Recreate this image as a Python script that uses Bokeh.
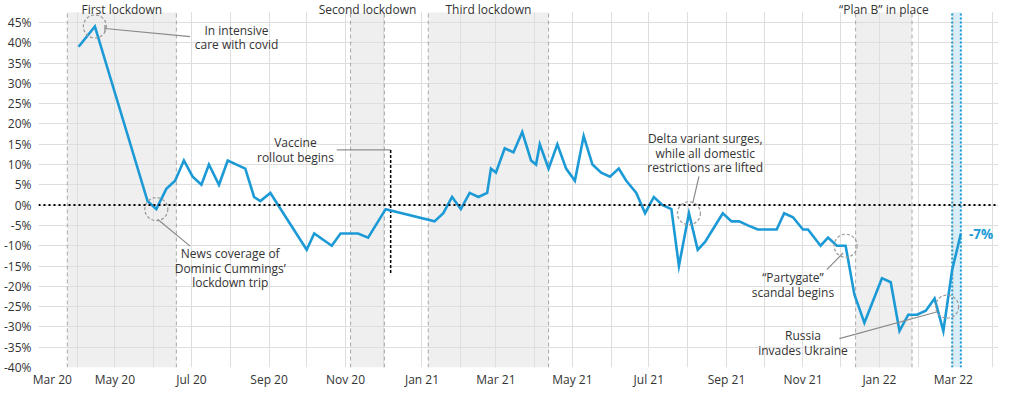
import pandas as pd
from math import pi
from bokeh.plotting import figure
from bokeh.models import Range1d, FixedTicker, PrintfTickFormatter, BoxAnnotation, Span, Label
from bokeh.embed import file_html
from bokeh.resources import INLINE

# ---------------- data ----------------
dates = [
    "2020-04-02", "2020-04-15", "2020-05-27", "2020-06-03", "2020-06-11", "2020-06-18",
    "2020-06-25", "2020-07-02", "2020-07-09", "2020-07-15", "2020-07-23", "2020-07-30",
    "2020-08-13", "2020-08-20", "2020-08-25", "2020-09-02", "2020-10-01", "2020-10-07",
    "2020-10-21", "2020-10-28", "2020-11-11", "2020-11-19", "2020-12-03", "2021-01-11",
    "2021-01-18", "2021-01-25", "2021-02-01", "2021-02-08", "2021-02-15", "2021-02-22",
    "2021-02-25", "2021-03-01", "2021-03-08", "2021-03-15", "2021-03-22", "2021-03-29",
    "2021-04-02", "2021-04-05", "2021-04-12", "2021-04-19", "2021-04-26", "2021-05-03",
    "2021-05-10", "2021-05-17", "2021-05-24", "2021-05-31", "2021-06-07", "2021-06-13",
    "2021-06-21", "2021-06-28", "2021-07-05", "2021-07-12", "2021-07-19", "2021-07-25",
    "2021-08-02", "2021-08-09", "2021-08-15", "2021-08-21", "2021-08-29", "2021-09-05",
    "2021-09-11", "2021-09-18", "2021-09-26", "2021-10-11", "2021-10-17", "2021-10-24",
    "2021-11-01", "2021-11-05", "2021-11-15", "2021-11-21", "2021-11-28", "2021-12-05",
    "2021-12-12", "2021-12-20", "2022-01-03", "2022-01-10", "2022-01-17", "2022-01-24",
    "2022-01-31", "2022-02-07", "2022-02-14", "2022-02-21", "2022-02-28", "2022-03-07",
]
net_support = [
    39, 44, 1, -1, 4, 6,
    11, 7, 5, 10, 5, 11,
    9, 2, 1, 3, -11, -7,
    -10, -7, -7, -8, -1, -4,
    -2, 2, -1, 3, 2, 3,
    9, 8, 14, 13, 18, 11,
    10, 15, 9, 15, 9, 6,
    17, 10, 8, 7, 9, 6,
    3, -2, 2, 0, -1, -15,
    -2, -11, -9, -6, -2, -4,
    -4, -5, -6, -6, -2, -3,
    -6, -6, -10, -8, -10, -10,
    -22, -29, -18, -19, -31, -27,
    -27, -26, -23, -31, -16, -7,
]

period_names = ["First lockdown", "Second lockdown", "Third lockdown", "\u201cPlan B\u201d in place"]
period_start = ["2020-03-24", "2020-11-05", "2021-01-06", "2021-12-13"]
period_end = ["2020-06-19", "2020-12-02", "2021-04-12", "2022-01-27"]

latest_start = "2022-02-28"
latest_end = "2022-03-07"

vaccine_date = "2020-12-07"
vaccine_text = "Vaccine\nrollout begins"
vaccine_text_date = "2020-09-22"
vaccine_text_val = 13.5
vaccine_leader_start = "2020-10-25"
vaccine_line_top = 13.6
vaccine_line_bottom = -16.9

event_text = [
    "In intensive\ncare with covid",
    "News coverage of\nDominic Cummings\u2019\nlockdown trip",
    "Delta variant surges,\nwhile all domestic\nrestrictions are lifted",
    "\u201cPartygate\u201d\nscandal begins",
    "Russia\ninvades Ukraine",
]
event_circle_date = ["2020-04-15", "2020-06-03", "2021-08-02", "2021-12-05", "2022-02-24"]
event_circle_val = [44, -1, -2, -10, -25]
event_label_date = ["2020-08-06", "2020-08-01", "2021-08-15", "2021-10-24", "2021-11-01"]
event_label_val = [41.3, -15.5, 12.8, -19.6, -34.0]
conn_x0 = ["2020-04-23", "2020-06-04", "2021-08-10", "2021-11-20", "2021-11-30"]
conn_y0 = [43.5, -3.5, 7.1, -15.9, -32.9]
conn_x1 = ["2020-06-30", "2020-06-30", "2021-08-05", "2021-12-03", "2022-02-17"]
conn_y1 = [41.5, -10.1, 0.4, -11.8, -26.2]

# x tick labels (first label nudged right like the original, to stay inside)
xtick_dates = ["2020-03-12", "2020-05-01", "2020-07-01", "2020-09-01", "2020-11-01", "2021-01-01",
               "2021-03-01", "2021-05-01", "2021-07-01", "2021-09-01", "2021-11-01", "2022-01-01",
               "2022-03-01"]
xtick_labels = ["Mar 20", "May 20", "Jul 20", "Sep 20", "Nov 20", "Jan 21", "Mar 21", "May 21",
                "Jul 21", "Sep 21", "Nov 21", "Jan 22", "Mar 22"]
ytick_values = list(range(-40, 50, 5))

# ---------------- styling ----------------
FONT = "Open Sans"
BLUE = "#1c9ad6"
TXT = "#333333"
FS = "12px"
LH = 0.87
Y_MIN, Y_PANEL_TOP, Y_MAX = -40, 47.5, 50.4


def ms(d):
    return pd.Timestamp(d).value / 1e6


p = figure(width=1020, height=390, x_axis_type="datetime",
           x_range=Range1d(ms("2020-03-01"), ms("2022-04-06")),
           y_range=Range1d(Y_MIN, Y_MAX),
           output_backend="svg", toolbar_location=None,
           min_border_left=0, min_border_right=22, min_border_top=0, min_border_bottom=0)
p.outline_line_color = None
p.background_fill_color = "white"
p.border_fill_color = "white"

# grid
months = pd.date_range("2020-03-01", "2022-04-01", freq="MS")
p.xgrid.ticker = FixedTicker(ticks=[ms(m) for m in months])
p.ygrid.ticker = FixedTicker(ticks=ytick_values)
for g in (p.xgrid, p.ygrid):
    g.grid_line_color = "#dedede"
    g.grid_line_width = 1
# keep the strip above the panel free of grid lines (room for the period titles)
p.add_layout(BoxAnnotation(bottom=Y_PANEL_TOP, fill_color="white", fill_alpha=1,
                           line_color=None, level="underlay"))

# axes
p.xaxis.ticker = FixedTicker(ticks=[ms(d) for d in xtick_dates])
p.xaxis.major_label_overrides = {ms(d): lab for d, lab in zip(xtick_dates, xtick_labels)}
p.yaxis.ticker = FixedTicker(ticks=ytick_values)
p.yaxis.formatter = PrintfTickFormatter(format="%d%%")
for ax in (p.xaxis, p.yaxis):
    ax.axis_line_color = None
    ax.major_tick_line_color = None
    ax.minor_tick_line_color = None
    ax.major_tick_out = 0
    ax.major_tick_in = 0
    ax.minor_tick_out = 0
    ax.minor_tick_in = 0
    ax.major_label_text_font = FONT
    ax.major_label_text_font_size = FS
    ax.major_label_text_color = TXT
p.xaxis.major_label_standoff = 3
p.yaxis.major_label_standoff = 7

# shaded periods
edge_x = []
for name, s, e in zip(period_names, period_start, period_end):
    p.add_layout(BoxAnnotation(left=ms(s), right=ms(e), bottom=Y_MIN, top=Y_PANEL_TOP,
                               fill_color="#efefef", fill_alpha=1, line_color=None,
                               level="image"))
    edge_x += [ms(s), ms(e)]
    p.add_layout(Label(x=(ms(s) + ms(e)) / 2, y=Y_PANEL_TOP + 0.6, text=name,
                       text_align="center", text_baseline="alphabetic", text_font=FONT,
                       text_font_size=FS, text_color=TXT))
p.segment(x0=edge_x, y0=[Y_MIN] * len(edge_x), x1=edge_x, y1=[Y_PANEL_TOP] * len(edge_x),
          line_color="#a8a8a8", line_width=1, line_dash="4 3")

# latest week band
p.add_layout(BoxAnnotation(left=ms(latest_start), right=ms(latest_end), bottom=Y_MIN,
                           top=Y_PANEL_TOP, fill_color="#d8eef9", fill_alpha=1,
                           line_color=None, level="image"))
band_x = [ms(latest_start), ms(latest_end)]
p.segment(x0=band_x, y0=[Y_MIN] * 2, x1=band_x, y1=[Y_PANEL_TOP] * 2,
          line_color=BLUE, line_width=2, line_dash="2 2")

# zero line
p.add_layout(Span(location=0, dimension="width", line_color="black", line_width=2,
                  line_dash="2 3"))

# vaccine marker
p.segment(x0=[ms(vaccine_leader_start)], y0=[vaccine_line_top], x1=[ms(vaccine_date)],
          y1=[vaccine_line_top], line_color="#777777", line_width=1)
p.segment(x0=[ms(vaccine_date)], y0=[vaccine_line_top], x1=[ms(vaccine_date)],
          y1=[vaccine_line_bottom], line_color="black", line_width=1.5, line_dash="3 2")
p.add_layout(Label(x=ms(vaccine_text_date), y=vaccine_text_val, text=vaccine_text,
                   text_align="center", text_baseline="middle", text_font=FONT,
                   text_font_size=FS, text_color=TXT, text_line_height=LH))

# main line
xs = [ms(d) for d in dates]
p.line(xs, net_support, line_color=BLUE, line_width=2.6, line_join="miter")

# event annotations
p.segment(x0=[ms(d) for d in conn_x0], y0=conn_y0, x1=[ms(d) for d in conn_x1], y1=conn_y1,
          line_color="#8a8a8a", line_width=1.2)
p.scatter([ms(conn_x0[0])], [conn_y0[0]], marker="dash", angle=pi / 2, size=7,
          line_color="#8a8a8a", line_width=1.2)
p.scatter([ms(d) for d in event_circle_date], event_circle_val, marker="circle", size=23,
          fill_color=None, line_color="#9a9a9a", line_width=1.2, line_dash="3 2")
for t, d, v in zip(event_text, event_label_date, event_label_val):
    p.add_layout(Label(x=ms(d), y=v, text=t, text_align="center", text_baseline="middle",
                       text_font=FONT, text_font_size=FS, text_color=TXT,
                       text_line_height=LH))

# latest value label
p.add_layout(Label(x=xs[-1], y=net_support[-1], x_offset=8, text=f"{net_support[-1]}%",
                   text_align="left", text_baseline="middle", text_font=FONT,
                   text_font_size="13.5px", text_font_style="bold", text_color=BLUE))

open("out.html", "w").write(file_html(p, INLINE))
